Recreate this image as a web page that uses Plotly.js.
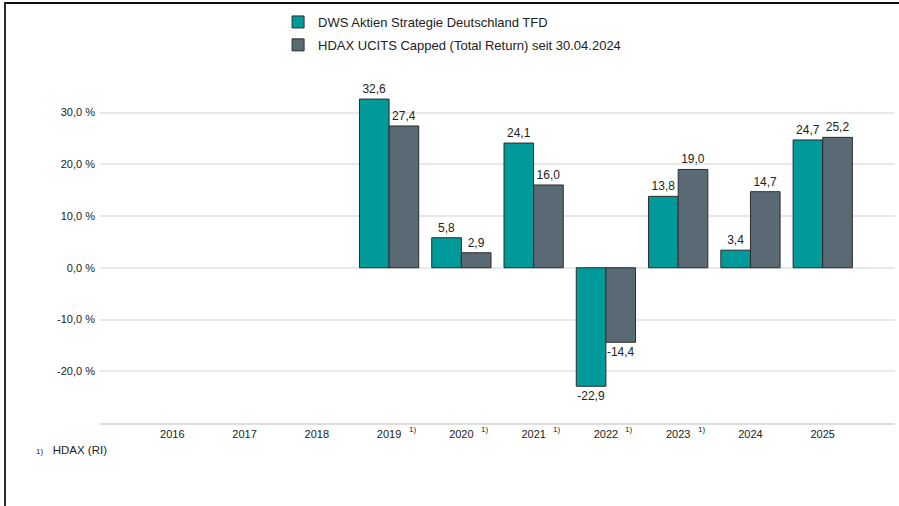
<!DOCTYPE html>
<html>
<head>
<meta charset="utf-8">
<script src="https://cdn.plot.ly/plotly-3.0.1.min.js"></script>
<style>
  html, body { margin: 0; padding: 0; background: #fff; }
  #wrap { position: relative; width: 899px; height: 506px; }
  #chart { position: absolute; left: 0; top: 0; width: 899px; height: 506px; }
  #frame { position: absolute; left: 4px; top: 2px; width: 895px; height: 504px;
           border-left: 2px solid #2a2a2a; border-top: 2px solid #111; box-sizing: border-box; pointer-events: none; }
</style>
</head>
<body>
<div id="wrap">
  <div id="chart"></div>
  <div id="frame"></div>
</div>
<script>
// ---- data ----
const years = [2016, 2017, 2018, 2019, 2020, 2021, 2022, 2023, 2024, 2025];
const yearLabels = ["2016", "2017", "2018", "2019", "2020", "2021", "2022", "2023", "2024", "2025"];
const fundValues = [null, null, null, 32.6, 5.8, 24.1, -22.9, 13.8, 3.4, 24.7];
const benchValues = [null, null, null, 27.4, 2.9, 16.0, -14.4, 19.0, 14.7, 25.2];
const footnoteYears = [2019, 2020, 2021, 2022, 2023];
const fundName = "DWS Aktien Strategie Deutschland TFD";
const benchName = "HDAX UCITS Capped (Total Return) seit 30.04.2024";
const yTickVals = [-20, -10, 0, 10, 20, 30, 40];
const yTickText = ["-20,0 %", "-10,0 %", "0,0 %", "10,0 %", "20,0 %", "30,0 %", ""];
const footnoteText = "<span style='font-size:8px'>1)</span>   HDAX (RI)";

const fmt = v => (v === null ? "" : v.toFixed(1).replace(".", ","));
const font = "Liberation Sans, Arial, sans-serif";

const common = {
  type: "bar",
  x: years,
  textposition: "outside",
  cliponaxis: false,
  constraintext: "none",
  textfont: { family: font, size: 12, color: "#222" },
  hoverinfo: "skip",
};

const traces = [
  Object.assign({}, common, {
    name: fundName, y: fundValues, text: fundValues.map(fmt), legendgroup: "a",
    marker: { color: "#009a9b", line: { color: "#2b2b2b", width: 1 } },
  }),
  Object.assign({}, common, {
    name: benchName, y: benchValues, text: benchValues.map(fmt), legendgroup: "b",
    marker: { color: "#5a6a74", line: { color: "#2b2b2b", width: 1 } },
  }),
];

// tick marks on both sides of each category
const tickMarks = [2015, 2026];
for (let y = 2015; y <= 2025; y++) { tickMarks.push(y + 1/3); if (y > 2015) tickMarks.push(y - 1/3); }
tickMarks.push(2025 + 2/3);

const annotations = footnoteYears.map(y => ({
  x: y, xref: "x", y: 0, yref: "paper", yshift: -6, xshift: 23,
  text: "1)", showarrow: false, font: { family: font, size: 8, color: "#222" },
  xanchor: "center", yanchor: "middle",
}));
annotations.push({
  x: -0.0825, xref: "paper", y: -0.075, yref: "paper", xanchor: "left", yanchor: "middle",
  text: footnoteText, showarrow: false, font: { family: font, size: 11.5, color: "#222" },
});

const layout = {
  width: 899, height: 506,
  margin: { l: 100, r: 4, t: 60, b: 83 },
  paper_bgcolor: "#fff", plot_bgcolor: "#fff",
  separators: ",.",
  barmode: "group", bargap: 0.18, bargroupgap: 0,
  font: { family: font, size: 11, color: "#222" },
  showlegend: true,
  legend: {
    x: 0.224, xanchor: "left", y: 1.146, yanchor: "top",
    font: { family: font, size: 13, color: "#222" },
    traceorder: "grouped", tracegroupgap: 3,
    bgcolor: "rgba(0,0,0,0)",
  },
  xaxis: {
    range: [2015, 2026], tickvals: years, ticktext: yearLabels,
    ticks: "", showgrid: false, zeroline: false,
    showline: true, linecolor: "#dedede", linewidth: 2,
    tickfont: { family: font, size: 11, color: "#222" },
    fixedrange: true,
  },
  xaxis2: {
    overlaying: "x", anchor: "y", side: "bottom",
    range: [2015, 2026], tickvals: tickMarks, ticks: "outside", ticklen: 5,
    tickcolor: "#dcdcdc", tickwidth: 1, showticklabels: false,
    showgrid: false, zeroline: false, showline: false,
  },
  yaxis: {
    range: [-30, 40.15], tickvals: yTickVals, ticktext: yTickText,
    showgrid: true, gridcolor: "#e8e8e8", gridwidth: 2,
    zeroline: false, showline: false, ticks: "", ticklabelstandoff: 4,
    tickfont: { family: font, size: 11, color: "#222" },
    fixedrange: true,
  },
  annotations: annotations,
};

Plotly.newPlot("chart", traces, layout, { staticPlot: true, displayModeBar: false });
</script>
</body>
</html>
